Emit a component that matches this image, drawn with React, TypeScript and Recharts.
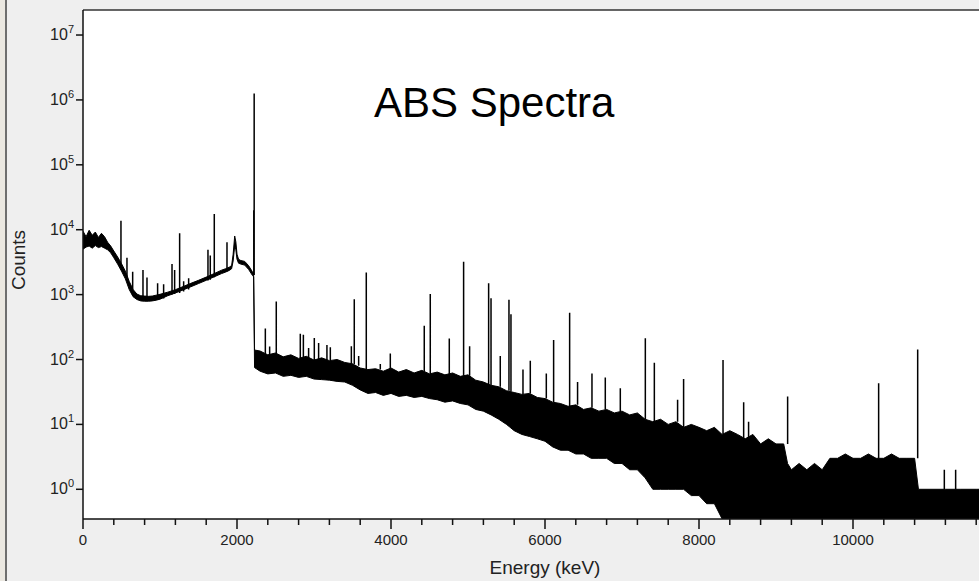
import { ComposedChart, Area, Line, XAxis, YAxis, CartesianGrid, ReferenceLine, Label } from 'recharts';

// Channel envelope of the spectrum (keV), upper and lower edge of the trace
const ENERGY = [
  0, 40, 80, 120, 160, 200, 240, 280, 320, 360, 400, 450, 500, 550, 600, 650, 700, 750, 800, 850,
  900, 950, 1000, 1100, 1200, 1300, 1400, 1500, 1600, 1700, 1800, 1850, 1900, 1930, 1950, 1970, 1985,
  2000, 2020, 2050, 2100, 2150, 2200, 2216, 2228,
  2300, 2400, 2500, 2600, 2700, 2800, 2900, 3000, 3100, 3200, 3300, 3400, 3500, 3600, 3700, 3800,
  3900, 4000, 4100, 4200, 4300, 4400, 4500, 4600, 4700, 4800, 4900, 5000, 5100, 5200, 5300, 5400,
  5500, 5600, 5700, 5800, 5900, 6000, 6100, 6200, 6300, 6400, 6500, 6600, 6700, 6800, 6900, 7000,
  7100, 7200, 7300, 7400, 7500, 7600, 7700, 7800, 7900, 8000, 8100, 8200, 8300, 8400, 8500, 8600,
  8700, 8800, 8900, 9000, 9100, 9150, 9200, 9300, 9400, 9500, 9600, 9700, 9800, 9900, 10000, 10100,
  10200, 10300, 10400, 10500, 10600, 10700, 10800, 10850, 11000, 11200, 11400, 11600, 11800, 12000,
];
const BAND_HI = [
  9500, 7800, 9800, 8200, 9200, 7600, 8800, 7800, 6400, 5600, 4700, 3800, 3000, 2300, 1600, 1200, 1020, 960, 950, 940,
  950, 980, 1010, 1090, 1190, 1330, 1490, 1660, 1860, 2100, 2380, 2500, 2650, 2800, 4200, 8000, 6500,
  4200, 3500, 3350, 3250, 2800, 2250, 2150, 140,
  135, 118, 126, 110, 118, 104, 112, 98, 106, 96, 100, 90, 86, 74, 70, 72,
  66, 74, 64, 70, 62, 68, 60, 64, 58, 62, 55, 58, 48, 45, 40, 38,
  33, 31, 29, 30, 26, 25, 22, 21, 19, 20, 17, 18, 16, 17, 15, 16,
  14, 15, 12, 11, 12, 10, 11, 9, 10, 9, 8, 9, 7, 8, 7, 6,
  7, 5, 6, 5, 5, 2.5, 2, 2.5, 2, 2.5, 2, 3, 3, 3.5, 3, 3,
  3.5, 3, 3, 3.5, 3, 3, 3, 1, 1, 1, 1, 1, 1, 1,
];
const BAND_LO = [
  5000, 5400, 5600, 5200, 5700, 5300, 5500, 5200, 4900, 4400, 3700, 2950, 2300, 1750, 1200, 930, 840, 800, 790, 790,
  800, 820, 850, 960, 1060, 1180, 1320, 1480, 1660, 1870, 2110, 2220, 2360, 2500, 3300, 5600, 4900,
  3500, 3050, 2950, 2850, 2450, 1980, 1880, 75,
  66, 60, 62, 55, 57, 53, 55, 50, 49, 48, 46, 45, 40, 34, 30, 31,
  28, 30, 27, 28, 26, 27, 25, 24, 22, 23, 21, 20, 17, 16, 14, 12,
  10, 8, 7, 6.5, 6, 5.5, 4.5, 4, 4, 3.5, 3.5, 3, 3, 3, 2.5, 2.5,
  2, 2, 1.5, 1, 1, 1, 1, 1, 0.8, 0.8, 0.6, 0.6, 0.35, 0.35, 0.35, 0.35,
  0.35, 0.35, 0.35, 0.35, 0.35, 0.35, 0.35, 0.35, 0.35, 0.35, 0.35, 0.35, 0.35, 0.35, 0.35, 0.35,
  0.35, 0.35, 0.35, 0.35, 0.35, 0.35, 0.35, 0.35, 0.35, 0.35, 0.35, 0.35, 0.35, 0.35,
];

// Gamma lines: energy (keV), continuum at the foot, peak top
const PEAK_ENERGY = [
  493, 571, 645, 779, 831, 969, 1047, 1156, 1190, 1255, 1307, 1372, 1623, 1653, 1705, 1870, 2218, 2223,
  2368, 2424, 2510, 2822, 2862, 2930, 3004, 3060, 3168, 3212, 3485, 3523, 3580, 3679, 3861, 3991,
  4432, 4510, 4757, 4943, 5021, 5268, 5299, 5419, 5532, 5558, 5714, 5809, 6017, 6112, 6320, 6423,
  6610, 6783, 6978, 7303, 7420, 7722, 7800, 8312, 8580, 8644, 9151, 10333, 10840, 11186, 11333,
];
const PEAK_FOOT = [
  2600, 1700, 1150, 900, 880, 840, 870, 1000, 1020, 1060, 1120, 1200, 1650, 1700, 1850, 2300, 2000, 2000,
  120, 118, 120, 105, 105, 105, 98, 100, 96, 96, 86, 85, 80, 70, 70, 72,
  66, 60, 58, 56, 56, 40, 40, 38, 33, 32, 29, 30, 25, 22, 19, 20,
  18, 17, 16, 12, 11, 11, 9, 7, 6, 6, 5, 3, 3, 1, 1,
];
const PEAK_TOP = [
  13700, 3700, 2250, 2400, 1840, 1500, 1440, 2950, 2400, 8800, 1600, 1780, 4900, 4000, 17400, 6400, 20000, 1260000,
  300, 158, 780, 250, 240, 150, 215, 180, 167, 155, 160, 850, 113, 2200, 85, 124,
  330, 1020, 210, 3200, 160, 1490, 880, 113, 830, 500, 70, 96, 61, 200, 525, 45,
  61, 53, 36, 212, 89, 24, 50, 98, 22, 11, 27, 43, 143, 2, 2,
];

const X_TICKS = [
  0, 400, 800, 1200, 1600, 2000, 2400, 2800, 3200, 3600, 4000, 4400, 4800, 5200, 5600, 6000,
  6400, 6800, 7200, 7600, 8000, 8400, 8800, 9200, 9600, 10000, 10400, 10800, 11200, 11600,
];
const Y_TICKS = [1, 10, 100, 1000, 10000, 100000, 1000000, 10000000];
const Y_EXPONENTS = ['0', '1', '2', '3', '4', '5', '6', '7'];
const Y_MIN = 0.3485;
const Y_MAX = 24300000;

const bandRows = ENERGY.map((e, i) => ({ e, band: [BAND_LO[i], BAND_HI[i]] }));
const peakRows = PEAK_ENERGY.flatMap((e, i) => [
  { e, c: PEAK_FOOT[i] },
  { e, c: PEAK_TOP[i] },
  { e, c: null },
]);

const FONT = '"Liberation Sans", Arial, sans-serif';
const INK = '#111';

function EnergyTick({ x, y, payload }: any) {
  const major = payload.value % 2000 === 0;
  return (
    <g>
      <line x1={x} y1={y} x2={x} y2={y + (major ? 10 : 6)} stroke={INK} strokeWidth={1.5} />
      {major && (
        <text x={x} y={y + 26} textAnchor="middle" fontSize={15} fill="#222" fontFamily={FONT}>
          {payload.value}
        </text>
      )}
    </g>
  );
}

function CountTick({ x, y, payload }: any) {
  const exp = Y_EXPONENTS[Y_TICKS.indexOf(payload.value)];
  return (
    <g>
      <line x1={x - 7} y1={y} x2={x} y2={y} stroke={INK} strokeWidth={1.5} />
      <text x={x - 9} y={y + 5} textAnchor="end" fontSize={16} fill="#222" fontFamily={FONT}>
        10
        <tspan dy={-7} fontSize={11}>
          {exp}
        </tspan>
      </text>
    </g>
  );
}

export default function App() {
  return (
    <div
      style={{
        position: 'fixed',
        left: 0,
        top: 0,
        width: 979,
        height: 581,
        overflow: 'hidden',
        background: '#efefef',
        fontFamily: FONT,
      }}
    >
      <ComposedChart width={1010} height={581} margin={{ top: 10, right: 3, bottom: 0, left: 0 }}>
        <CartesianGrid fill="#fff" stroke="none" />
        <XAxis
          dataKey="e"
          type="number"
          domain={[0, 12000]}
          allowDataOverflow
          ticks={X_TICKS}
          interval={0}
          tick={<EnergyTick />}
          tickLine={false}
          tickSize={0}
          tickMargin={0}
          height={62}
          axisLine={{ stroke: INK, strokeWidth: 1.5 }}
        >
          <Label
            content={({ viewBox }: any) => (
              <text
                x={viewBox.x + viewBox.width / 2}
                y={viewBox.y + 55}
                textAnchor="middle"
                fontSize={19}
                fill="#222"
                fontFamily={FONT}
              >
                Energy (keV)
              </text>
            )}
          />
        </XAxis>
        <YAxis
          scale="log"
          domain={[Y_MIN, Y_MAX]}
          allowDataOverflow
          ticks={Y_TICKS}
          interval={0}
          tick={<CountTick />}
          tickLine={false}
          tickSize={0}
          tickMargin={0}
          width={83}
          axisLine={{ stroke: INK, strokeWidth: 1.5 }}
        >
          <Label
            content={({ viewBox }: any) => (
              <text
                x={25}
                y={viewBox.y + 250}
                transform={`rotate(-90 25 ${viewBox.y + 250})`}
                textAnchor="middle"
                fontSize={19}
                fill="#222"
                fontFamily={FONT}
              >
                Counts
              </text>
            )}
          />
        </YAxis>
        <ReferenceLine y={Y_MAX} stroke="#333" strokeWidth={1.5} />
        <Area
          data={bandRows}
          dataKey="band"
          type="linear"
          stroke="#000"
          strokeWidth={1}
          fill="#000"
          fillOpacity={1}
          dot={false}
          activeDot={false}
          isAnimationActive={false}
        />
        <Line
          data={peakRows}
          dataKey="c"
          type="linear"
          stroke="#000"
          strokeWidth={1.5}
          dot={false}
          activeDot={false}
          connectNulls={false}
          isAnimationActive={false}
        />
      </ComposedChart>
      <div style={{ position: 'absolute', left: 0, top: 0, width: 5, height: 581, background: '#ebe8e1' }} />
      <div style={{ position: 'absolute', left: 5, top: 0, width: 2, height: 581, background: '#6e6e6e' }} />
      <svg
        width={979}
        height={581}
        style={{ position: 'absolute', left: 0, top: 0, pointerEvents: 'none' }}
      >
        <text x={374} y={117} fontSize={42} fill="#000" fontFamily={FONT}>
          ABS Spectra
        </text>
      </svg>
    </div>
  );
}
